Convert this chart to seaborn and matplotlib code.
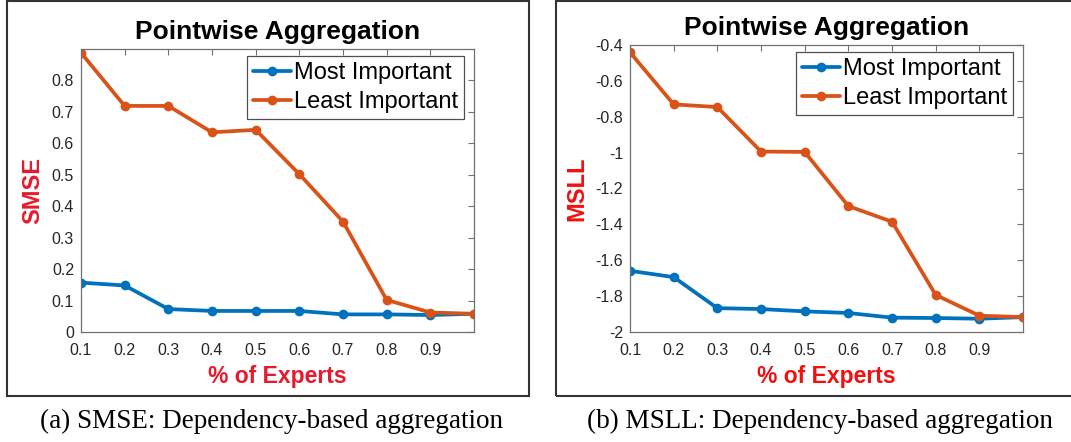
import numpy as np
import pandas as pd
import matplotlib
matplotlib.use("Agg")
import matplotlib.pyplot as plt
from matplotlib.patches import Rectangle
import seaborn as sns

# ---------------- data ----------------
experts = [0.1, 0.2, 0.3, 0.4, 0.5, 0.6, 0.7, 0.8, 0.9, 1.0]
smse_most = [0.157, 0.148, 0.073, 0.067, 0.067, 0.067, 0.056, 0.056, 0.054, 0.058]
smse_least = [0.888, 0.719, 0.719, 0.635, 0.643, 0.502, 0.351, 0.102, 0.062, 0.058]
msll_most = [-1.659, -1.694, -1.867, -1.872, -1.885, -1.894, -1.920, -1.922, -1.926, -1.917]
msll_least = [-0.441, -0.731, -0.746, -0.994, -0.996, -1.298, -1.385, -1.793, -1.909, -1.917]
series_names = ["Most Important", "Least Important"]
xtick_vals = [0.1, 0.2, 0.3, 0.4, 0.5, 0.6, 0.7, 0.8, 0.9]
xtick_labels = ["0.1", "0.2", "0.3", "0.4", "0.5", "0.6", "0.7", "0.8", "0.9"]
smse_ticks = [0, 0.1, 0.2, 0.3, 0.4, 0.5, 0.6, 0.7, 0.8]
smse_tick_labels = ["0", "0.1", "0.2", "0.3", "0.4", "0.5", "0.6", "0.7", "0.8"]
msll_ticks = [-2, -1.8, -1.6, -1.4, -1.2, -1, -0.8, -0.6, -0.4]
msll_tick_labels = ["-2", "-1.8", "-1.6", "-1.4", "-1.2", "-1", "-0.8", "-0.6", "-0.4"]
title_text = "Pointwise Aggregation"
xlabel_text = "% of Experts"
captions = ["(a) SMSE: Dependency-based aggregation", "(b) MSLL: Dependency-based aggregation"]

sns.set_style("white")
plt.rcParams["font.family"] = ["Liberation Sans", "DejaVu Sans"]

colors = {"Most Important": "#0072BD", "Least Important": "#D95319"}
tick_gray = "#262626"
spine_gray = "#707070"

W, H = 1071, 442
fig = plt.figure(figsize=(W / 100, H / 100), dpi=100)


def px_axes(x0, y0, x1, y1):
    return fig.add_axes([x0 / W, 1 - y1 / H, (x1 - x0) / W, (y1 - y0) / H])


def draw_panel(ax, most, least, ylabel, ylim, yticks, yticklabels, ylabel_color):
    df = pd.DataFrame({
        "x": experts * 2,
        "y": list(most) + list(least),
        "series": [series_names[0]] * len(experts) + [series_names[1]] * len(experts),
    })
    sns.lineplot(data=df, x="x", y="y", hue="series", palette=colors,
                 marker="o", markersize=7, markeredgewidth=0,
                 linewidth=2.7, ax=ax, legend=True)
    ax.set_xlim(0.1, 1.0)
    ax.set_ylim(*ylim)
    ax.set_xticks(xtick_vals)
    ax.set_xticklabels(xtick_labels)
    ax.set_yticks(yticks)
    ax.set_yticklabels(yticklabels)
    ax.tick_params(direction="in", length=4, width=0.8, color=spine_gray,
                   labelcolor=tick_gray, labelsize=11.5, top=True, right=True)
    ax.tick_params(axis="x", pad=8)
    ax.tick_params(axis="y", pad=5)
    for s in ax.spines.values():
        s.set_visible(True)
        s.set_color(spine_gray)
        s.set_linewidth(0.9)
    ax.set_title(title_text, fontsize=19, fontweight="bold", color="black", pad=7)
    ax.set_xlabel(xlabel_text, fontsize=16.5, fontweight="bold", color=ylabel_color, labelpad=5)
    ax.set_ylabel(ylabel, fontsize=17, fontweight="bold", color=ylabel_color, labelpad=5)
    leg = ax.legend(loc="upper right", bbox_to_anchor=(0.975, 0.974), fontsize=17,
                    frameon=True, fancybox=False, framealpha=1, edgecolor="#505050",
                    handlelength=1.6, handletextpad=0.15, labelspacing=0.3,
                    borderpad=0.25, borderaxespad=0.0, title=None)
    leg.get_frame().set_linewidth(0.9)
    for t in leg.get_texts():
        t.set_color("black")


ax1 = px_axes(81, 49, 474, 332)
draw_panel(ax1, smse_most, smse_least, "SMSE", (0, 0.9), smse_ticks, smse_tick_labels, "#E8192C")

ax2 = px_axes(630, 45, 1023, 332)
draw_panel(ax2, msll_most, msll_least, "MSLL", (-2, -0.4), msll_ticks, msll_tick_labels, "#F20F0F")

# outer frames around each sub-figure
fig.patches.append(Rectangle((7 / W, 1 - 396 / H), (529 - 7) / W, (396 - 1) / H,
                             transform=fig.transFigure, fill=False,
                             edgecolor="#333333", linewidth=1.5))
fig.patches.append(Rectangle((556 / W, 1 - 396 / H), (1090 - 556) / W, (396 - 1) / H,
                             transform=fig.transFigure, fill=False,
                             edgecolor="#333333", linewidth=1.5, clip_on=False))

# captions
fig.text(271 / W, 1 - 421 / H, captions[0], ha="center", va="center",
         fontsize=19.5, family=["Liberation Serif", "DejaVu Serif"], color="black")
fig.text(820 / W, 1 - 421 / H, captions[1], ha="center", va="center",
         fontsize=19.5, family=["Liberation Serif", "DejaVu Serif"], color="black")

fig.savefig("out.png", dpi=100)
